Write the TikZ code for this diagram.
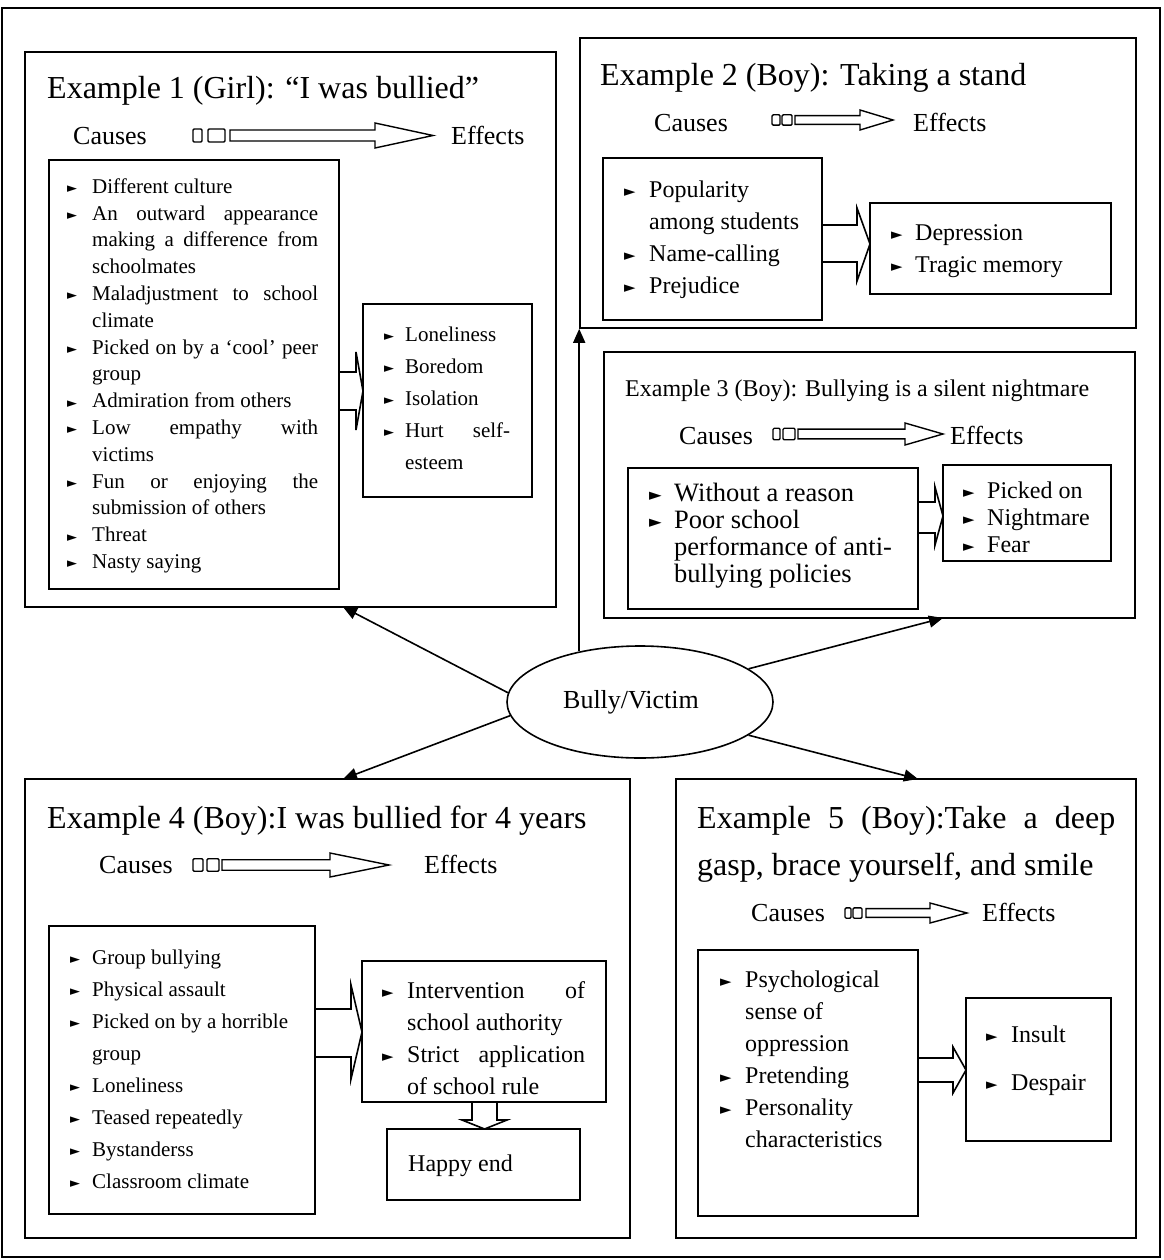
\documentclass[tikz,border=0pt]{standalone}
\usepackage{fontspec}
\usepackage{graphicx}
\setmainfont{Liberation Serif}
\newfontfamily\symf{DejaVu Sans}
\usetikzlibrary{arrows.meta,shapes.geometric,fit}

% bullet and list items
\newlength\hind
\newcommand\bul{\raisebox{0.02em}{\scalebox{0.62}{\symf ►}}}
\newcommand\itm{\par\hangindent=\hind\hangafter=1\noindent\makebox[\hind][l]{\strut\bul}\ignorespaces}

% text block: name, x of bullet, first baseline, width, font size, line skip, hanging indent, items
\newcommand\TBlk[8]{\node[anchor=north west, inner sep=0pt] (#1) at (#2,#3-0.7*#6)
  {\parbox[t]{#4pt}{\fontsize{#5}{#6}\selectfont\setlength\hind{#7pt}\tolerance=10000\hbadness=10000\relax#8}};}

% framed box from corner to corner
\newcommand\Frame[5]{\node[frame, fit={(#2,#3) (#4,#5)}] (#1) {};}

% "causes => effects" marker: y, two small boxes, shaft start, head base, tip, head half height
\newcommand\CArrow[9]{%
  \pgfmathsetmacro\ra{#1-0.52*#9}\pgfmathsetmacro\rb{#1+0.52*#9}%
  \pgfmathsetmacro\sa{#1-0.44*#9}\pgfmathsetmacro\sb{#1+0.44*#9}%
  \pgfmathsetmacro\ha{#1-#9}\pgfmathsetmacro\hb{#1+#9}%
  \draw[cbox, rounded corners=1.2pt] (#2,\ra) rectangle (#3,\rb);
  \draw[cbox, rounded corners=1.2pt] (#4,\ra) rectangle (#5,\rb);
  \draw[cbox, line join=miter] (#6,\sa) -- (#7,\sa) -- (#7,\ha) -- (#8,#1)
     -- (#7,\hb) -- (#7,\sb) -- (#6,\sb) -- cycle;}

\tikzset{
  frame/.style={draw, line width=1.6pt, inner sep=0pt},
  conn/.style={line width=1.6pt, -{Triangle[length=14pt,width=12pt]}},
  blk/.style={line width=1.6pt, line join=miter},
  cbox/.style={line width=1.4pt},
  ttl/.style={anchor=base west, inner sep=0pt, font=\fontsize{32}{38}\selectfont},
  lbl/.style={anchor=base west, inner sep=0pt, font=\fontsize{26}{30}\selectfont},
  txt/.style={anchor=base west, inner sep=0pt, font=\fontsize{24}{28}\selectfont},
}

\begin{document}
\begin{tikzpicture}[x=1pt, y=-1pt]
\useasboundingbox (0,0) rectangle (1163,1260);
\Frame{outer}{2}{8}{1160}{1257}

% ---------- Example 1 ----------
\Frame{ex1}{25}{52}{556}{607}
\node[ttl] (t1) at (47,99) {Example 1 (Girl): “I was bullied”};
\node[lbl] (ca1) at (73,145) {Causes};
\node[lbl] (ef1) at (451,145) {Effects};
\CArrow{135.5}{193}{202}{208}{225}{230}{375}{433}{12.5}
\Frame{c1}{49}{160}{339}{589}
\TBlk{c1t}{67}{193}{251}{21}{26.8}{25}{%
\itm Different culture
\itm An outward appearance\linebreak making a difference from\linebreak schoolmates
\itm Maladjustment to school\linebreak climate
\itm Picked on by a ‘cool’ peer\linebreak group
\itm Admiration from others
\itm Low empathy with\linebreak victims
\itm Fun or enjoying the\linebreak submission of others
\itm Threat
\itm Nasty saying}
\Frame{e1}{363}{304}{532}{497}
\TBlk{e1t}{384}{341}{126}{21}{32}{21}{%
\itm Loneliness
\itm Boredom
\itm Isolation
\itm Hurt self-\linebreak esteem}
\draw[blk] (339,372) -- (356,372) -- (356,352) -- (363,391) -- (356,430) -- (356,410) -- (339,410);

% ---------- Example 2 ----------
\Frame{ex2}{580}{38}{1136}{328}
\node[ttl] (t2) at (600,86) {Example 2 (Boy): Taking a stand};
\node[lbl] (ca2) at (654,131.5) {Causes};
\node[lbl] (ef2) at (913,131.5) {Effects};
\CArrow{120}{772}{780}{782}{792}{795}{860}{893}{10}
\Frame{c2}{603}{158}{822}{320}
\TBlk{c2t}{624}{197}{190}{24}{32}{25}{%
\itm Popularity\newline among students
\itm Name-calling
\itm Prejudice}
\Frame{e2}{870}{203}{1111}{294}
\TBlk{e2t}{891}{240}{200}{24}{32}{24}{%
\itm Depression
\itm Tragic memory}
\draw[blk] (822,225) -- (857,225) -- (857,208) -- (870,244) -- (857,281) -- (857,262) -- (822,262);

% ---------- Example 3 ----------
\Frame{ex3}{604}{352}{1135}{618}
\node[anchor=base west, inner sep=0pt, font=\fontsize{24}{28}\selectfont] (t3) at (625,396)
  {Example 3 (Boy): Bullying is a silent nightmare};
\node[lbl] (ca3) at (679,444.5) {Causes};
\node[lbl] (ef3) at (950,444.5) {Effects};
\CArrow{434}{773}{780}{783}{795}{798}{905}{943}{11}
\Frame{c3}{628}{468}{918}{609}
\TBlk{c3t}{649}{501}{260}{26.5}{27}{25}{%
\itm Without a reason
\itm Poor school\newline performance of anti-\newline bullying policies}
\Frame{e3}{943}{465}{1111}{561}
\TBlk{e3t}{963}{498}{140}{24}{27}{24}{%
\itm Picked on
\itm Nightmare
\itm Fear}
\draw[blk] (918,502) -- (935,502) -- (935,487) -- (943,516) -- (935,545) -- (935,533) -- (918,533);

% ---------- Example 4 ----------
\Frame{ex4}{25}{779}{630}{1238}
\node[ttl] (t4) at (47,828.5) {Example 4 (Boy):I was bullied for 4 years};
\node[lbl] (ca4) at (99,873.5) {Causes};
\node[lbl] (ef4) at (424,873.5) {Effects};
\CArrow{865}{193}{203}{207}{219}{222}{330}{389}{12}
\Frame{c4}{49}{926}{315}{1214}
\TBlk{c4t}{70}{964}{240}{21}{32}{22}{%
\itm Group bullying
\itm Physical assault
\itm Picked on by a horrible\newline group
\itm Loneliness
\itm Teased repeatedly
\itm Bystanderss
\itm Classroom climate}
\Frame{e4}{362}{961}{606}{1102}
\TBlk{e4t}{382}{998}{203}{24}{32}{25}{%
\itm Intervention of\linebreak school authority
\itm Strict application\linebreak of school rule}
\draw[blk] (315,1009) -- (351,1009) -- (351,985) -- (362,1032) -- (351,1079) -- (351,1057) -- (315,1057);
\Frame{hap}{387}{1129}{580}{1200}
\node[txt] (hapt) at (408,1171) {Happy end};
\draw[blk] (472,1102) -- (472,1120) -- (462,1120) -- (484.5,1129) -- (507,1120) -- (497,1120) -- (497,1102);

% ---------- Example 5 ----------
\Frame{ex5}{676}{779}{1136}{1238}
\node[anchor=north west, inner sep=0pt] (t5) at (697,828.5-0.7*47)
  {\parbox[t]{418pt}{\fontsize{32}{47}\selectfont\tolerance=10000\hbadness=10000\strut
   Example 5 (Boy):Take a deep\linebreak gasp, brace yourself, and smile}};
\node[lbl] (ca5) at (751,921.5) {Causes};
\node[lbl] (ef5) at (982,921.5) {Effects};
\CArrow{913}{845}{851}{853}{862}{866}{930}{967}{10}
\Frame{c5}{698}{950}{918}{1216}
\TBlk{c5t}{720}{987}{180}{24}{32}{25}{%
\itm Psychological\newline sense of\newline oppression
\itm Pretending
\itm Personality\newline characteristics}
\Frame{e5}{966}{998}{1111}{1141}
\TBlk{e5t}{986}{1042}{110}{24}{48}{25}{%
\itm Insult
\itm Despair}
\draw[blk] (918,1058) -- (953,1058) -- (953,1047) -- (966,1070) -- (953,1093) -- (953,1082) -- (918,1082);

% ---------- centre ----------
\node[draw, ellipse, line width=1.6pt, minimum width=266pt, minimum height=112pt, inner sep=0pt,
      font=\fontsize{26}{30}\selectfont] (bv) at (640,702) {\hspace*{-18pt}Bully/Victim};
\coordinate (tip1) at (343,607);
\coordinate (tip3) at (943,618);
\coordinate (tip4) at (343,779);
\coordinate (tip5) at (918,779);
\draw[conn] (bv.176) -- (tip1);
\draw[conn] (ex2.south west |- bv.140) -- (ex2.south west);
\draw[conn] (bv.17) -- (tip3);
\draw[conn] (bv.186) -- (tip4);
\draw[conn] (bv.343) -- (tip5);
\end{tikzpicture}
\end{document}
